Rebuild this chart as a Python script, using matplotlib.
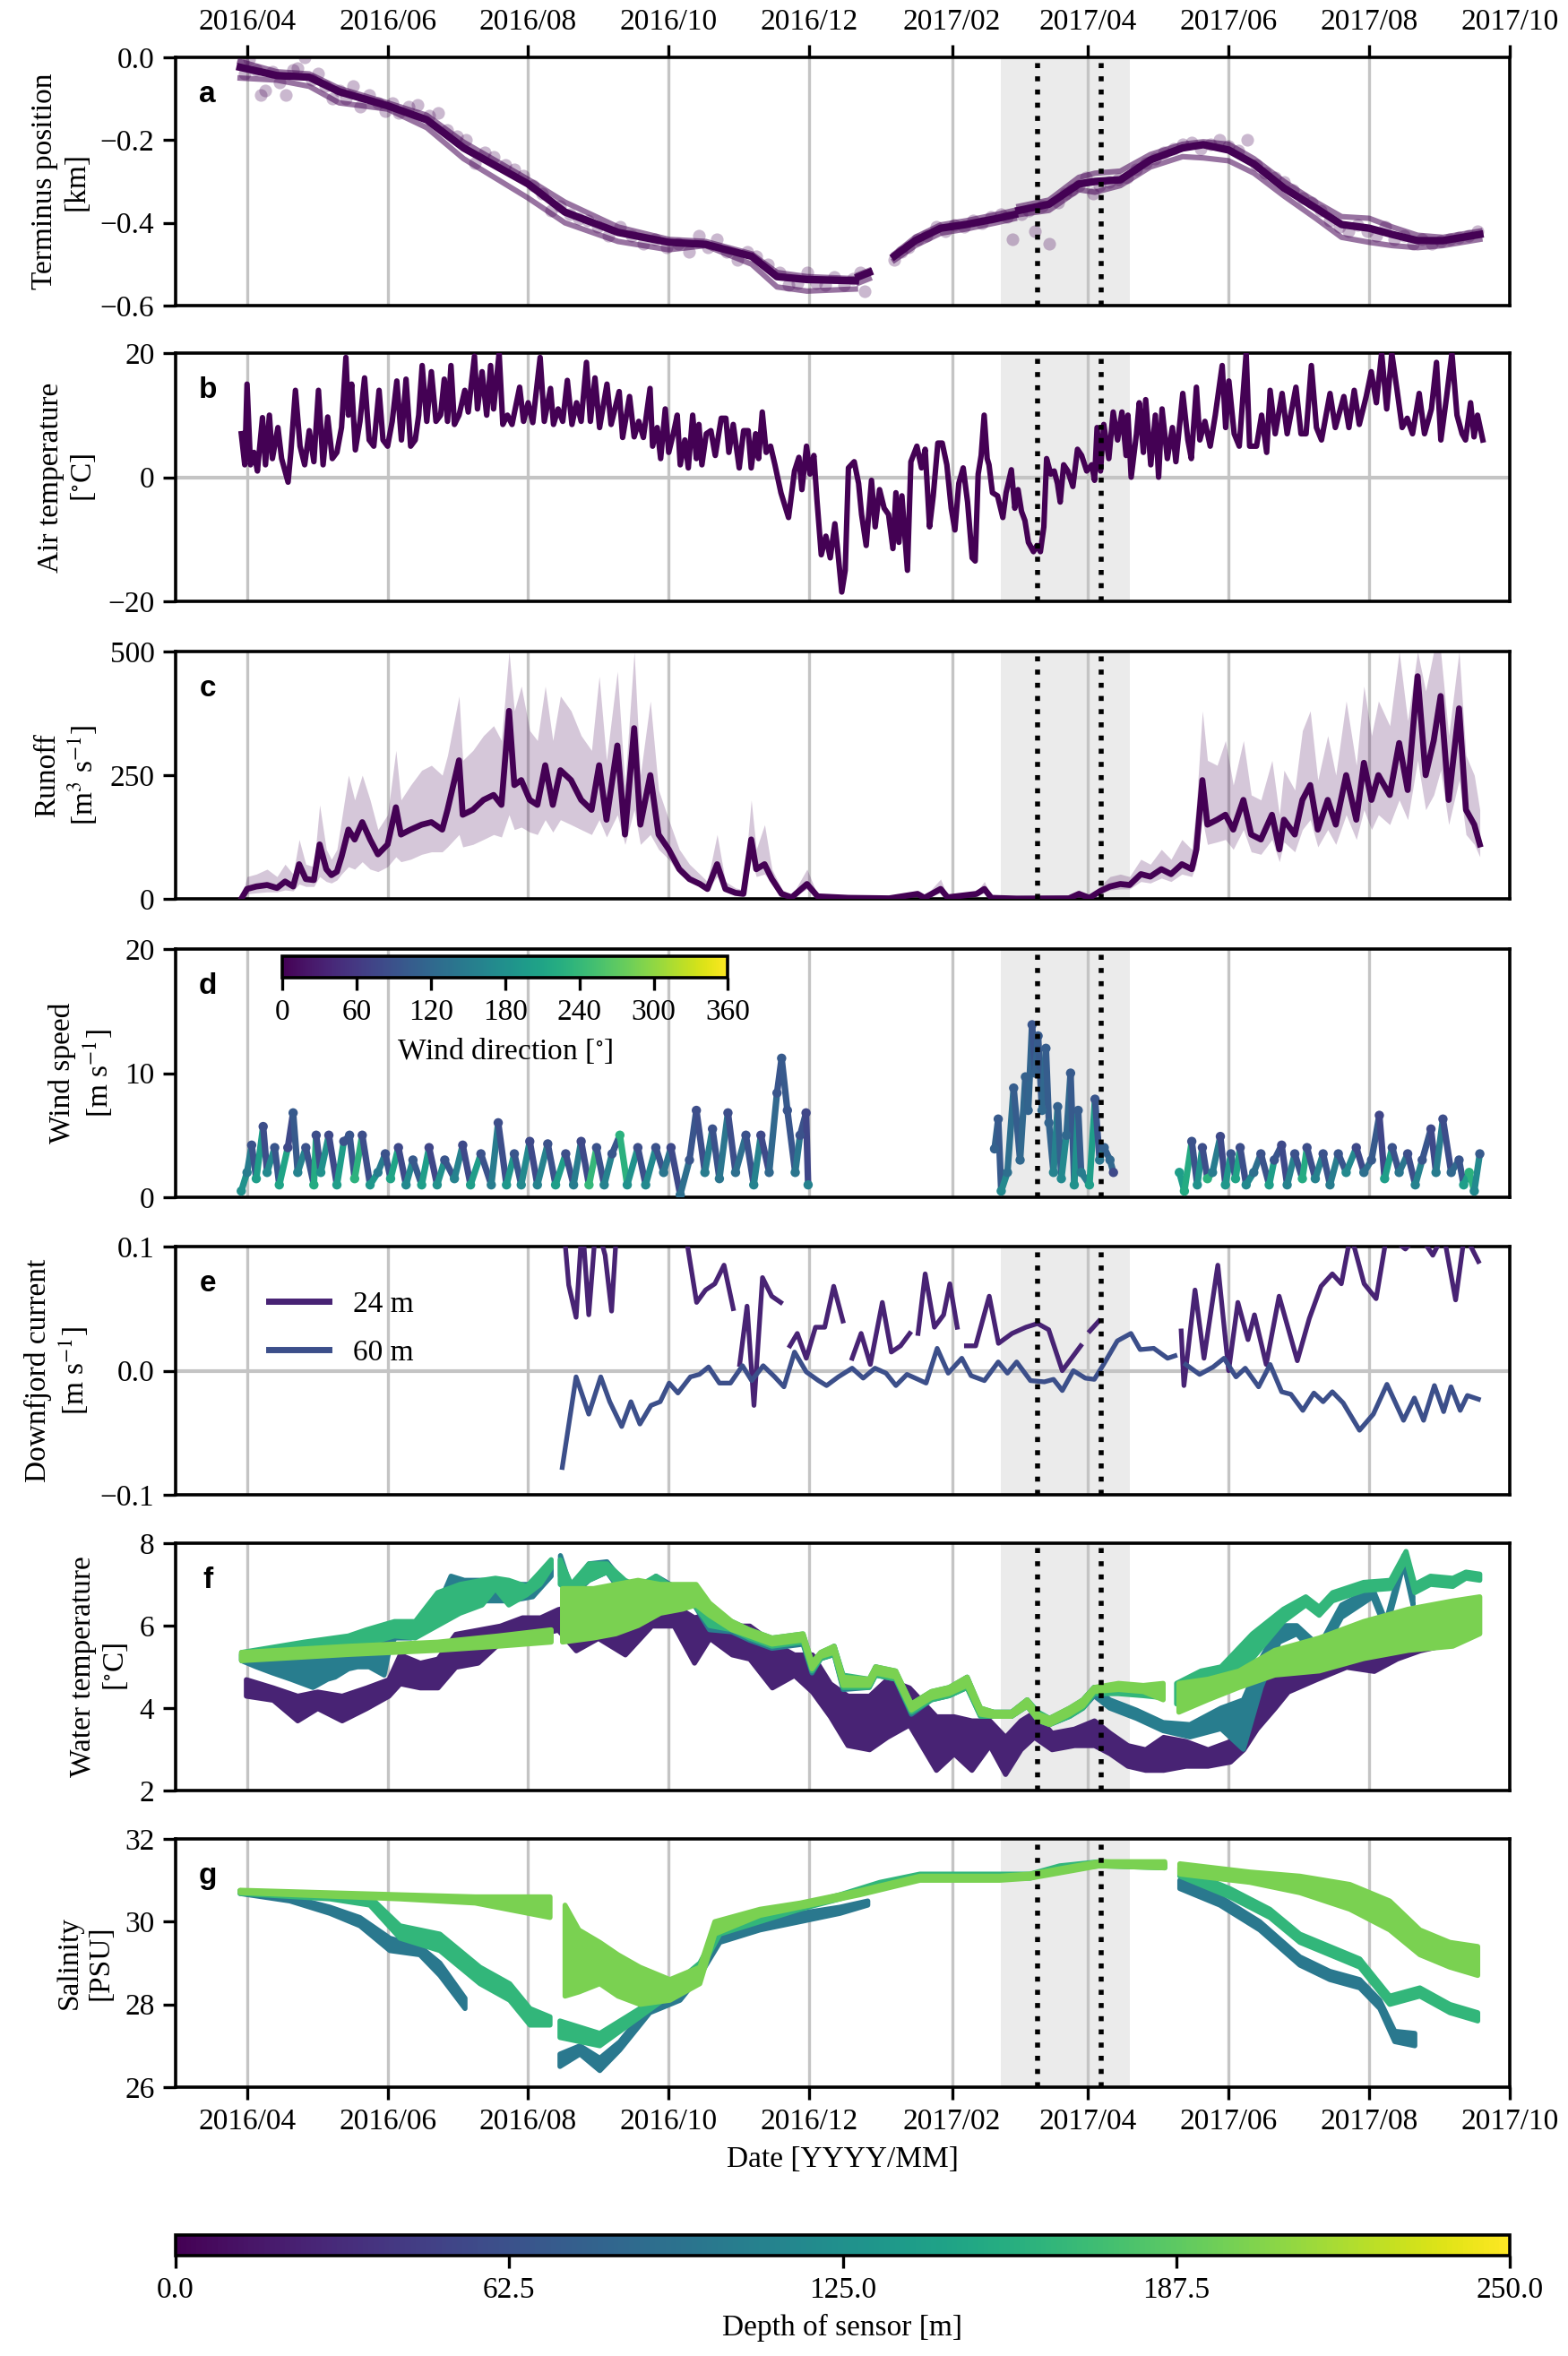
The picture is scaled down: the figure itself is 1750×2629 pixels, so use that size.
import numpy as np
import matplotlib
matplotlib.use('Agg')
import matplotlib.pyplot as plt
import matplotlib.dates as mdates
from matplotlib.collections import LineCollection
from matplotlib import cm, colors

plt.rcParams['font.family'] = ['Liberation Serif', 'DejaVu Serif']
plt.rcParams['mathtext.fontset'] = 'stix'
plt.rcParams['font.size'] = 12

nan = np.nan

# days counted from 2016-03-01
SHADE = (358, 414)
EVENTS = [374, 401.6]

# a: terminus position [km]
a_days = [28, 44, 58, 71, 92, 109, 125, 153, 169, 192, 214, 230, 250, 261, 274, 295, 295.5, 296.5, 301, 306,
          312, 321, 332, 343, 356, 364, 365, 366, 379, 392, 399, 410, 423, 437, 446, 457, 468, 481, 495, 506,
          518, 528, 539, 550, 566]
a_mid = [-0.024, -0.044, -0.048, -0.083, -0.117, -0.151, -0.219, -0.306, -0.374, -0.423, -0.447, -0.452, -0.481, -0.53, -0.537, -0.54, nan, -0.53, -0.52, nan,
         -0.48, -0.443, -0.413, -0.404, -0.39, -0.38, nan, -0.37, -0.355, -0.306, -0.30, -0.296, -0.248, -0.219, -0.211, -0.224, -0.258, -0.316, -0.365, -0.404,
         -0.413, -0.428, -0.443, -0.443, -0.428]
a_north = [-0.010, -0.035, -0.040, -0.075, -0.110, -0.140, -0.205, -0.295, -0.350, -0.410, -0.440, -0.445, -0.475, -0.520, -0.530, -0.535, nan, -0.525, -0.515, nan,
           -0.475, -0.435, -0.405, -0.395, -0.380, -0.370, nan, -0.360, -0.345, -0.290, -0.280, -0.275, -0.235, -0.210, -0.204, -0.210, -0.245, -0.300, -0.350, -0.385,
           -0.389, -0.410, -0.430, -0.435, -0.420]
a_south = [-0.050, -0.055, -0.070, -0.110, -0.125, -0.170, -0.245, -0.340, -0.400, -0.445, -0.465, -0.455, -0.500, -0.555, -0.565, -0.560, nan, -0.545, -0.535, nan,
           -0.490, -0.455, -0.425, -0.415, -0.400, -0.390, nan, -0.380, -0.370, -0.320, -0.326, -0.310, -0.265, -0.240, -0.243, -0.250, -0.280, -0.335, -0.390, -0.435,
           -0.447, -0.455, -0.460, -0.455, -0.440]
a_pt_days = [29, 30, 32, 35, 37, 39, 42, 45, 48, 51, 53, 56, 59, 62, 65, 68, 71, 74, 77, 80,
             84, 88, 91, 94, 97, 101, 105, 110, 114, 118, 122, 126, 130, 134, 138, 143, 147, 151, 155, 159,
             163, 167, 171, 175, 179, 183, 188, 193, 198, 203, 208, 213, 218, 223, 227, 231, 235, 239, 244, 248,
             252, 257, 262, 266, 270, 274, 278, 282, 286, 290, 294, 297, 299,
             312, 315, 318, 322, 326, 330, 334, 338, 342, 346, 350, 354, 358, 361, 363, 367, 370, 373, 376, 379,
             383, 386, 389, 392, 395, 398, 401, 405, 409, 413, 417, 421, 425, 429, 433, 437, 441, 445, 449, 453,
             457, 461, 465, 469, 473, 477, 481, 485, 489, 493, 497, 501, 505, 509, 513, 517, 521, 525, 529, 533,
             537, 541, 545, 549, 553, 557, 561, 565]
a_pt_vals = [-0.01, -0.04, -0.005, -0.03, -0.09, -0.08, -0.035, -0.06, -0.09, -0.03, -0.025, 0.0, -0.055, -0.04, -0.07, -0.1, -0.08, -0.1, -0.07, -0.12,
             -0.09, -0.11, -0.13, -0.11, -0.135, -0.12, -0.115, -0.14, -0.135, -0.175, -0.19, -0.2, -0.255, -0.23, -0.24, -0.26, -0.27, -0.285, -0.31, -0.33,
             -0.37, -0.36, -0.38, -0.39, -0.395, -0.41, -0.43, -0.41, -0.43, -0.45, -0.44, -0.46, -0.45, -0.47, -0.43, -0.46, -0.44, -0.47, -0.49, -0.47,
             -0.48, -0.5, -0.52, -0.55, -0.545, -0.52, -0.545, -0.55, -0.53, -0.55, -0.535, -0.52, -0.565,
             -0.49, -0.47, -0.46, -0.44, -0.43, -0.41, -0.42, -0.405, -0.41, -0.395, -0.4, -0.385, -0.38, -0.385, -0.44, -0.38, -0.37, -0.42, -0.36, -0.45,
             -0.35, -0.33, -0.32, -0.31, -0.29, -0.33, -0.31, -0.3, -0.295, -0.29, -0.27, -0.255, -0.245, -0.23, -0.22, -0.21, -0.205, -0.22, -0.21, -0.2,
             -0.215, -0.225, -0.2, -0.26, -0.28, -0.29, -0.3, -0.32, -0.34, -0.35, -0.37, -0.395, -0.41, -0.42, -0.405, -0.42, -0.43, -0.41, -0.44, -0.43,
             -0.45, -0.44, -0.45, -0.445, -0.44, -0.435, -0.43, -0.42]

# b: air temperature [C], summer 2016 / winter 2016-17 / spring-summer 2017
b_days_sum16 = [28.5, 30, 31, 32.5, 34, 35.5, 37.7, 39, 40.7, 42,
                44.4, 46, 48.8, 50, 52, 54, 56, 58, 60, 62,
                64, 66, 68, 70, 72, 73.9, 75, 76.4, 78, 80,
                82, 84, 86, 88.3, 90, 92, 94, 96, 98, 100,
                102, 104, 105.5, 107, 109, 111, 113, 115, 116.6, 118,
                119.5, 121, 123, 125.5, 127, 129.7, 131, 133, 135, 136.7,
                138, 140.4, 142, 144, 146, 149.3, 151, 153, 155, 158.2,
                160, 162.7, 164, 166, 168, 170, 172, 174, 176, 178.3,
                180, 182, 184, 187.2, 189, 192.5, 194, 197, 199, 201,
                203, 205.9, 207, 209, 210.5, 212.5, 214, 216, 217.7, 219,
                221, 222.5, 224.4, 226]
b_vals_sum16 = [7, 2, 15, 2, 4, 1, 9.6, 2, 10, 3,
                8, 3, -0.8, 4, 14, 5, 2, 7.5, 2.5, 14,
                2, 9.7, 3, 4, 8, 19.3, 10, 15, 4.4, 9,
                16, 6, 5, 14, 6, 5, 9, 15.5, 6, 15.8,
                5, 6, 10, 18, 9, 17, 9, 10, 15.8, 9,
                18, 8.5, 10, 14, 10.5, 19.5, 11, 17, 10, 18,
                11, 20, 8.5, 10, 8.5, 14.5, 9, 12, 8.8, 19.3,
                9, 14.3, 8.5, 11, 9, 15.6, 8.5, 12, 9, 18.5,
                9, 16, 8, 15, 8.5, 13.8, 6.4, 13, 6.5, 9,
                6.4, 14.3, 5, 8, 3, 11, 4, 7, 10, 2,
                6, 1.5, 10, 3]
b_days_win = [227.1, 228.4, 230.3, 232.3, 234.2, 236.8, 238.8, 240.1, 242, 244.6,
              246.5, 248.5, 249.8, 251.7, 253, 254.6, 256.3, 258.2, 260.1, 262.7,
              266, 268.6, 270.5, 271.8, 273.8, 275.3, 277, 278.3, 280.2, 282.2,
              284.1, 286.1, 287.4, 289.1, 290.6, 292, 294.5, 296.4, 297.7, 299.7,
              302, 303.6, 305.5, 307.5, 309.4, 311.3, 312.6, 313.9, 315.2, 317.6,
              319.1, 321.7, 323.7, 325.3, 327.2, 328.8, 330.8, 332.7, 334.7, 336.6,
              338.2, 339.9, 341.8, 343.7, 345.7, 347, 348.3, 349.6, 350.9, 352.2]
b_vals_win = [8.5, 2, 7, 7.5, 3.5, 9.5, 9.5, 4, 8.5, 1.5,
              7.5, 7.5, 1.5, 7, 3, 10.5, 4, 5, 2, -2.5,
              -6.5, 1, 3.2, -2, 5, 0.5, 3.5, -3.5, -12.5, -9.5,
              -13, -7.5, -12, -18.5, -15, 1.5, 2.5, -1, -6, -11,
              -0.5, -8, -2, -5, -6, -11.5, -2.5, -10.5, -3, -15,
              2.5, 5, 1.5, 4.5, -8, -3, 5.5, 5.5, 2, -5,
              -8.5, -1, 1.5, -4, -13, -13.5, 0.5, 3.5, 10, 3]
b_days_17 = [353, 354.5, 356.7, 359, 360.4, 362.7, 364.2, 365.6, 367.1, 368.6,
             370.1, 372.3, 373.8, 375.3, 376.8, 378, 379.8, 381.3, 382.7, 383.9,
             385.4, 387.2, 389.4, 391.4, 393.2, 395.4, 397.6, 398.8, 399.9, 401.4,
             402.8, 405, 406.9, 408.8, 410.7, 412.5, 413.3, 414.7, 417, 418.2,
             420, 421, 423.2, 425.2, 426.6, 428.1, 430.4, 432.6, 434.1, 437.1,
             439.3, 440.8, 443, 444.5, 446.7, 449, 451.2, 454.2, 455.7, 457.1,
             459.4, 461.6, 464.6, 466.1, 469.1, 471.3, 473.5, 475, 477.2, 480.2,
             482.4, 486.2, 488.4, 490.6, 492.9, 495.1, 497.3, 501, 503.3, 507,
             509.2, 511.5, 513.7, 516.7, 518.9, 521.1, 523.4, 525.6, 527.8, 530.1,
             532.3, 534.5, 536.8, 539.7, 542, 545, 547.2, 549.1, 551.6, 553.9,
             556.1, 558.3, 559.8, 562, 563.5, 565, 567.3]
b_vals_17 = [2, -2.5, -3, -6.5, -2.5, 1.2, -5, -2, -5.5, -7,
             -10.5, -12, -11, -12, -8, 3, 0.5, 1, -1, -4,
             2, 1, -1.5, 4.5, 3.5, 1, 2, -0.5, 8, 1,
             8.5, 3, 10.5, 6, 10.5, 3.5, 10, 0, 7, 12,
             4, 12.5, 2, 10, 0, 11, 3, 8, 2.5, 13.5,
             6, 3, 14.5, 6, 9, 5, 10, 18, 8, 15.5,
             7, 5, 20, 5, 5, 10, 4, 14, 7, 13.5,
             7, 14.5, 7, 7, 18, 8, 6, 13.5, 8, 13,
             8, 14, 8.5, 13, 17, 12, 20, 11, 20, 14,
             8, 9.5, 7, 13.5, 7, 11, 18.5, 6, 13, 20,
             10, 7, 6, 12, 6.5, 10, 6]

# c: runoff [m3/s]
c_days = [28.5, 31, 35, 39.7, 44, 47.5, 51, 53.6, 56.5, 60,
          62.5, 65.4, 67.6, 70, 72, 75, 77.7, 81, 84.4, 87.8,
          92, 95.6, 97.8, 102, 106.8, 111, 115.7, 118, 123, 124.6,
          129, 133.6, 138, 141.4, 144.7, 147, 150, 153.7, 157, 160.4,
          163.7, 167, 171.6, 176, 180.5, 183.8, 187, 191.7, 195, 199,
          201.7, 206, 209.6, 214, 218.6, 223, 227.5, 230.8, 235, 238.6,
          243, 246.4, 249.8, 252, 255.6, 258.8, 263, 267.4, 274, 278.6,
          292, 309.7, 322, 325, 332, 335, 347.6, 351, 354, 365,
          387.7, 392, 396.6, 401, 405.5, 410, 414, 418.9, 423, 427.8,
          432, 436.7, 441, 443, 445.6, 447.8, 452, 455.6, 459, 463.4,
          466.8, 471, 475.8, 479, 481, 485.7, 489, 492.4, 495.7, 500,
          503.5, 508, 512.4, 515.7, 519, 522, 526.9, 531, 534.7, 539,
          542.5, 546, 549, 552.5, 557, 560, 563.6, 566]
c_mean = [0, 20, 25, 28, 22, 35, 25, 70, 40, 38,
          110, 60, 48, 55, 85, 140, 120, 155, 120, 90,
          110, 185, 130, 140, 150, 155, 140, 180, 280, 170,
          180, 200, 210, 190, 380, 230, 240, 200, 190, 270,
          190, 260, 240, 200, 180, 270, 160, 310, 130, 345,
          150, 250, 130, 100, 60, 40, 30, 20, 70, 20,
          12, 10, 120, 60, 70, 40, 10, 3, 30, 5,
          2, 1, 10, 2, 20, 3, 10, 20, 2, 0.5,
          1, 10, 2, 15, 25, 30, 28, 50, 45, 60,
          50, 70, 60, 100, 240, 150, 160, 170, 140, 200,
          130, 120, 170, 100, 160, 130, 200, 230, 140, 200,
          150, 250, 160, 275, 200, 250, 210, 315, 220, 450,
          250, 320, 410, 200, 385, 180, 150, 110]
c_lo = [0, 10, 12, 14, 14, 18, 16, 30, 25, 25,
        45, 35, 32, 38, 50, 65, 60, 75, 60, 55,
        65, 85, 75, 80, 90, 95, 95, 105, 130, 105,
        110, 120, 130, 125, 170, 140, 145, 135, 130, 160,
        135, 160, 150, 140, 130, 160, 125, 170, 110, 180,
        110, 130, 100, 80, 50, 35, 25, 18, 45, 18,
        10, 8, 80, 45, 50, 30, 8, 2, 20, 3,
        1, 0.5, 6, 1, 12, 2, 6, 12, 1, 0.2,
        0.5, 6, 1, 10, 18, 20, 20, 35, 32, 42,
        35, 50, 45, 70, 160, 110, 115, 120, 100, 140,
        95, 90, 120, 75, 115, 95, 140, 160, 105, 140,
        110, 170, 120, 180, 140, 170, 150, 200, 160, 280,
        180, 210, 260, 150, 240, 130, 110, 85]
c_hi = [0, 45, 50, 60, 45, 70, 50, 120, 70, 65,
        190, 100, 80, 100, 160, 250, 200, 250, 200, 140,
        170, 300, 200, 230, 260, 270, 250, 290, 410, 280,
        300, 330, 350, 320, 500, 380, 430, 340, 320, 430,
        320, 410, 380, 330, 300, 450, 280, 460, 230, 500,
        250, 400, 220, 160, 100, 70, 50, 35, 130, 35,
        22, 18, 200, 100, 150, 60, 20, 6, 60, 8,
        3, 2, 15, 4, 40, 5, 15, 35, 3, 1,
        2, 18, 4, 25, 45, 50, 45, 80, 70, 100,
        80, 120, 100, 190, 380, 280, 270, 320, 230, 320,
        210, 200, 280, 170, 260, 220, 340, 380, 240, 330,
        250, 400, 270, 430, 330, 400, 350, 500, 360, 500,
        420, 500, 500, 330, 500, 290, 250, 180]

# d: wind speed [m/s] and direction [deg], three records
d1_days = [28.5, 31, 33, 35, 38, 39.7, 43, 45, 48.7, 51,
           53, 56.5, 60, 61, 63, 66.5, 70, 73, 75.5, 77.7,
           81, 84.4, 87.8, 91, 93.3, 96.7, 100, 103, 106.8, 110,
           113.5, 116.8, 121, 124.6, 128, 132.5, 137, 140, 143.6, 147,
           150, 153.7, 157, 161.5, 164.9, 169.3, 172.7, 176, 179.4, 182.7,
           186, 189.4, 192.8, 196, 200.6, 204, 208.4, 211.8, 215, 219,
           223, 226, 229.7, 233, 236, 239.7, 243, 247.5, 250.9, 254,
           257.6, 261, 263, 265.5, 268.9, 271, 273.6, 274.5]
d1_speed = [0.5, 2, 4.2, 1.5, 5.7, 2, 4, 1, 4, 6.8,
            2, 4, 1, 5, 2, 5, 1, 4.5, 5, 1.5,
            5, 1, 2, 3.5, 1.5, 4, 1, 3, 1, 4,
            1, 3, 1.5, 4.2, 1, 3.5, 1, 6, 1, 3.5,
            1, 4.5, 1, 4.3, 1, 3.5, 1, 4.5, 1, 4,
            1, 3.5, 5, 1, 4, 1, 4, 2, 4, 0.2,
            3, 7, 2, 5.5, 1.5, 6.8, 2, 5, 1, 5,
            2, 8.4, 11.2, 7, 2, 5, 6.8, 1]
d1_dir = [180, 150, 90, 200, 85, 170, 95, 210, 80, 100,
          160, 90, 220, 85, 180, 80, 200, 90, 95, 230,
          85, 190, 150, 90, 210, 80, 170, 100, 200, 75,
          180, 95, 160, 80, 200, 90, 150, 85, 190, 95,
          170, 80, 160, 90, 200, 85, 150, 80, 240, 90,
          160, 95, 230, 180, 85, 170, 90, 140, 80, 130,
          95, 85, 150, 90, 140, 85, 130, 90, 160, 80,
          120, 95, 100, 95, 140, 90, 75, 160]
d2_days = [355.4, 357, 358.3, 361, 363.7, 366.5, 368.8, 370, 371.7, 373,
           374.3, 376, 377.7, 379, 381, 382.8, 384.4, 386.6, 388.4, 390,
           391.7, 393, 396.6, 399, 401, 403, 405.5, 407]
d2_speed = [3.9, 6.3, 0.5, 2, 8.8, 3, 9.7, 7, 13.9, 10,
            13, 7, 12, 6, 2, 7.3, 1.5, 5, 10, 1,
            7, 2, 1, 7.9, 3, 4, 3, 2]
d2_dir = [110, 100, 170, 130, 105, 120, 110, 115, 95, 110,
          100, 120, 105, 115, 160, 110, 170, 120, 100, 180,
          105, 150, 200, 95, 140, 110, 120, 80]
d3_days = [435.6, 437.8, 441, 443.4, 445.6, 447.8, 450, 453.4, 455.6, 458,
           460, 462, 464.6, 467.9, 471, 474.6, 476.8, 480, 482.4, 485.7,
           489, 491, 494.6, 498, 501, 504.6, 508, 512.4, 515.7, 519,
           522.4, 524.7, 528, 531, 534.7, 538, 541, 544.8, 547, 550,
           553.6, 557, 559, 561.4, 563.6, 566]
d3_speed = [2, 0.5, 4.5, 1, 4, 1.5, 2, 4.9, 1, 3.5,
            1.5, 4, 1, 2, 3.5, 1, 3, 4.2, 1, 3.5,
            1.5, 4, 1.5, 3.5, 1, 3.5, 2, 4, 2, 3,
            6.6, 1.5, 4, 2, 3.5, 1, 3, 5.5, 2, 6.3,
            2, 3, 1, 2, 0.5, 3.5]
d3_dir = [200, 220, 90, 180, 85, 230, 150, 80, 190, 95,
          210, 85, 170, 130, 90, 200, 95, 80, 160, 90,
          220, 85, 160, 90, 150, 95, 170, 80, 130, 100,
          75, 200, 90, 140, 85, 160, 95, 80, 150, 85,
          120, 95, 200, 230, 170, 100]

# e: downfjord current [m/s]
e60_days = [167.8, 173.8, 179.3, 184.5, 188.4, 193.6, 197.6, 201.5, 206.3, 210.3,
            214.2, 218, 223.4, 227.3, 231.3, 236, 240.8, 246, 250, 255,
            260, 264, 268.6, 273.7, 279, 282.5, 287.6, 293.6, 298.4, 303.5,
            308.3, 312.6, 317.4, 322.2, 325.7, 330.5, 335.3, 341.2, 345.2, 351,
            357, 361, 365, 371, 377, 381, 384.8, 389.6, 394.8, 398.7,
            402.7, 408.7, 414.6, 418.6, 424.5, 430.5, 433.7, 435, 438.4, 444.4,
            450.3, 455, 460.2, 464.2, 470, 475, 480, 484, 489.2, 494,
            498, 502, 506.7, 513.8, 519.8, 525.7, 532.9, 537.6, 541.6, 546.3,
            550.3, 553.5, 557.5, 560.6, 565.4]
e60_vals = [-0.078, -0.005, -0.035, -0.005, -0.025, -0.045, -0.025, -0.043, -0.028, -0.025,
            -0.01, -0.018, -0.005, -0.003, 0.003, -0.01, -0.01, 0.004, -0.008, 0.004,
            -0.005, -0.013, 0.015, -0.001, -0.008, -0.012, -0.005, 0.002, -0.006, 0.002,
            -0.002, -0.012, -0.003, -0.007, -0.01, 0.018, -0.002, 0.01, -0.004, -0.008,
            0.007, -0.002, 0.007, -0.008, -0.009, -0.007, -0.016, 0.0, -0.006, -0.007,
            0.005, 0.024, 0.03, 0.017, 0.018, 0.01, 0.012, nan, 0.005, -0.003,
            0.003, 0.01, -0.005, 0.002, -0.013, 0.005, -0.017, -0.019, -0.032, -0.018,
            -0.025, -0.017, -0.026, -0.048, -0.035, -0.011, -0.04, -0.022, -0.04, -0.012,
            -0.033, -0.013, -0.032, -0.02, -0.023]
e24_days = [167.8, 170.6, 173.8, 176.5, 179.3, 182.5, 186.4, 189.2, 191.6, 200,
            210, 218, 222.2, 226.1, 230, 234, 238, 242, 243.5, 244.8,
            248, 251, 254.7, 258.7, 262.6, 264.5, 266.6, 269.8, 273.7, 277.7,
            281.7, 285.6, 289.6, 291.5, 293.6, 297.5, 301.5, 306.7, 310.6, 314.6,
            318.6, 320.5, 322.2, 325.3, 329.3, 333.3, 336, 339.2, 341, 343.2,
            347.2, 353.1, 357.1, 363, 369, 374.1, 378.9, 384.8, 388.8, 392.8,
            394.5, 396.8, 400.7, 402, 436.4, 437.6, 442.4, 446.3, 452.3, 457,
            461, 465.4, 468.2, 473.3, 478.9, 486.8, 492, 497.1, 502, 505.9,
            510, 515.8, 521, 525.7, 533.7, 539.6, 545.6, 550.3, 555.5, 559.4,
            565.4]
e24_vals = [0.13, 0.069, 0.043, 0.12, 0.045, 0.12, 0.093, 0.048, 0.12, 0.14,
            0.14, 0.13, 0.1, 0.055, 0.065, 0.07, 0.085, 0.05, nan, 0.005,
            0.052, -0.028, 0.075, 0.06, 0.055, nan, 0.02, 0.03, 0.01, 0.035,
            0.035, 0.068, 0.04, nan, 0.01, 0.03, 0.005, 0.055, 0.015, 0.02,
            0.03, nan, 0.03, 0.078, 0.035, 0.045, 0.07, 0.035, nan, 0.02,
            0.02, 0.06, 0.022, 0.03, 0.035, 0.038, 0.033, 0.0, 0.01, 0.02,
            nan, 0.032, 0.04, nan, 0.032, -0.012, 0.065, 0.01, 0.085, 0.0,
            0.055, 0.025, 0.045, 0.005, 0.06, 0.008, 0.042, 0.068, 0.078, 0.07,
            0.11, 0.07, 0.058, 0.11, 0.098, 0.11, 0.093, 0.11, 0.057, 0.11,
            0.088]

# f: water temperature [C], band (low, high) per sensor
f24_days = [30.5, 42.2, 52.8, 61.5, 72.1, 82.8, 92.4, 97.3, 106, 113.7,
            121.4, 131.1, 140.8, 150.4, 158.2, 165.9, 173.7, 183.3, 195, 206.5,
            216.2, 225, 231.7, 241.4, 249, 258.8, 268.4, 276.2, 284, 291.6,
            301, 308.7, 318.3, 330, 337.7, 345.4, 353.2, 360, 366.7, 372.5,
            380.2, 389.9, 398.6, 405.4, 413.1, 420.8, 428.6, 438.3, 447.9, 457.6,
            463.4, 469.2, 476.9, 482.7, 495, 508, 520, 530, 540, 548]
f24_lo = [4.3, 4.2, 3.7, 4.0, 3.7, 4.0, 4.3, 4.6, 4.5, 4.5,
          5.0, 5.1, 5.6, 5.6, 5.8, 5.9, 5.4, 5.7, 5.3, 6.0,
          6.0, 5.1, 5.7, 5.3, 5.2, 4.5, 4.8, 4.4, 3.8, 3.1,
          3.0, 3.3, 3.6, 2.5, 2.9, 2.5, 3.1, 2.4, 3.0, 3.3,
          3.0, 3.1, 3.1, 2.9, 2.6, 2.5, 2.5, 2.6, 2.6, 2.7,
          3.0, 3.5, 4.0, 4.4, 4.7, 5.0, 4.9, 5.2, 5.4, 5.5]
f24_hi = [4.7, 4.5, 4.3, 4.4, 4.3, 4.5, 4.7, 5.3, 5.1, 5.2,
          5.8, 5.9, 6.0, 6.2, 6.2, 6.4, 6.5, 6.3, 6.3, 6.6,
          6.5, 6.2, 6.3, 6.0, 6.0, 5.6, 5.3, 5.3, 4.6, 4.3,
          4.3, 4.7, 4.5, 3.8, 3.8, 3.7, 3.7, 3.3, 3.7, 3.9,
          3.4, 3.5, 3.7, 3.4, 3.1, 3.0, 3.3, 3.2, 3.0, 3.2,
          3.9, 4.6, 4.8, 5.2, 5.5, 5.8, 5.7, 6.2, 6.4, 6.5]
f105_days = [28.6, 35, 42.2, 50, 59.6, 66, 69.2, 75, 78.9, 84,
             90.5, 93, 95.3, 102.1, 108, 113.7, 119.5, 125.3, 135, 145,
             155, 163, 165, 167, 171.7, 179.4, 187.2, 195, 200.7, 208.5,
             216.2, 224, 231.7, 241.4, 249, 258.8, 272.3, 276.2, 280, 285.8,
             289.7, 301, 303.8, 312.5, 319.3, 328, 335.7, 343.5, 349.3, 355.1,
             362.8, 369.6, 374.4, 379.3, 388, 393.8, 398.6, 405.4, 417, 428.6,
             440.2, 453.7, 463.4, 471.1, 478.9, 486.6, 496.3, 506, 519.5, 525.3,
             533, 537]
f105_lo = [5.15, 5.0, 4.85, 4.7, 4.5, 4.7, 4.75, 4.95, 5.0, 5.0,
           4.8, 5.5, 5.7, 5.7, 5.95, 6.1, 6.8, 6.7, 6.6, 6.6,
           6.7, 7.2, nan, 7.2, 6.7, 7.1, 7.3, 6.7, 6.7, 6.9,
           6.7, 6.6, 5.9, 5.85, 5.65, 5.45, 5.55, 4.85, 5.2, 5.3,
           4.45, 4.5, 4.8, 4.7, 3.85, 4.2, 4.3, 4.5, 3.8, 3.8,
           3.8, 4.05, 3.7, 3.6, 3.8, 4.0, 4.3, 4.0, 3.75, 3.45,
           3.3, 3.5, 3.0, 4.5, 5.6, 5.8, 5.2, 6.2, 6.7, 5.9,
           7.5, 6.5]
f105_hi = [5.3, 5.35, 5.3, 5.35, 5.4, 5.4, 5.45, 5.5, 5.5, 5.55,
           5.6, 5.9, 6.05, 5.95, 6.2, 6.45, 7.2, 7.1, 7.1, 7.0,
           7.0, 7.5, nan, 7.7, 6.9, 7.5, 7.55, 7.0, 6.9, 7.2,
           6.95, 6.8, 6.15, 6.05, 5.85, 5.65, 5.75, 5.05, 5.3, 5.5,
           4.75, 4.65, 5.0, 4.85, 4.05, 4.35, 4.45, 4.75, 3.95, 3.9,
           3.9, 4.2, 3.85, 3.75, 3.95, 4.2, 4.5, 4.2, 3.95, 3.65,
           3.6, 4.0, 4.2, 5.2, 6.0, 6.0, 5.5, 6.5, 6.9, 6.1,
           7.7, 6.7]
f165_days = [28.6, 55.7, 75, 82.8, 95, 104, 113.7, 123.4, 133, 138.8,
             144.6, 152.4, 158.2, 163, 165, 166.9, 171.7, 179.4, 187.2, 195,
             200.7, 208.5, 216.2, 224, 231.7, 241.4, 249, 258.8, 272.3, 276.2,
             280, 285.8, 289.7, 301, 303.8, 312.5, 319.3, 328, 335.7, 343.5,
             349.3, 355.1, 362.8, 369.6, 374.4, 379.3, 388, 393.8, 398.6, 409,
             420, 428.6, 432, 434.4, 445, 453.7, 467.3, 480.8, 490.5, 496.3,
             502.1, 515.6, 527.2, 534, 537.8, 544.6, 554.3, 560, 566]
f165_lo = [5.15, 5.35, 5.45, 5.55, 5.75, 5.7, 6.0, 6.3, 6.5, 6.9,
           6.5, 6.75, 7.0, 7.4, nan, 7.0, 6.8, 7.1, 7.3, 6.8,
           6.8, 6.9, 6.7, 6.6, 6.0, 5.9, 5.7, 5.5, 5.6, 4.9,
           5.2, 5.3, 4.5, 4.5, 4.8, 4.7, 3.9, 4.2, 4.3, 4.5,
           3.8, 3.8, 3.8, 4.05, 3.7, 3.6, 3.8, 4.0, 4.35, 4.35,
           4.3, 4.25, nan, 4.1, 4.4, 4.6, 5.2, 6.1, 6.5, 6.25,
           6.6, 6.85, 6.9, 7.6, 6.8, 7.0, 6.95, 7.15, 7.1]
f165_hi = [5.35, 5.6, 5.75, 5.9, 6.1, 6.1, 6.8, 7.0, 7.1, 7.15,
           7.1, 6.95, 7.3, 7.6, nan, 7.6, 7.0, 7.5, 7.5, 7.1,
           6.95, 7.2, 6.9, 6.8, 6.2, 6.1, 5.9, 5.7, 5.8, 5.1,
           5.35, 5.5, 4.8, 4.7, 5.0, 4.9, 4.1, 4.4, 4.5, 4.75,
           4.0, 3.9, 3.9, 4.2, 3.9, 3.75, 4.0, 4.2, 4.5, 4.55,
           4.5, 4.5, nan, 4.6, 4.9, 5.0, 5.8, 6.4, 6.7, 6.45,
           6.8, 7.05, 7.1, 7.8, 7.0, 7.2, 7.15, 7.3, 7.25]
f200_days = [28.6, 75, 113.7, 140, 163, 165, 167.9, 181.4, 191, 200.7,
             210.4, 220, 225.9, 231.7, 241.4, 249, 258.8, 272.3, 276.2, 280,
             285.8, 289.7, 301, 303.8, 312.5, 319.3, 328, 335.7, 343.5, 349.3,
             355.1, 362.8, 369.6, 374.4, 379.3, 388, 393.8, 398.6, 409.2, 420,
             428.6, 431, 435.4, 448, 461.5, 477, 496.3, 515.6, 535, 554.3,
             566]
f200_lo = [5.15, 5.3, 5.4, 5.5, 5.6, nan, 5.6, 5.7, 5.8, 6.0,
           6.3, 6.4, 6.5, 6.25, 5.9, 5.75, 5.55, 5.65, 4.95, 5.25,
           5.35, 4.55, 4.55, 4.85, 4.75, 3.95, 4.25, 4.35, 4.55, 3.85,
           3.8, 3.8, 4.05, 3.7, 3.6, 3.85, 4.05, 4.4, 4.45, 4.4,
           4.2, nan, 3.9, 4.2, 4.5, 4.8, 4.9, 5.2, 5.4, 5.5,
           5.8]
f200_hi = [5.35, 5.5, 5.6, 5.75, 5.9, nan, 6.9, 6.9, 7.0, 7.1,
           7.0, 7.0, 7.0, 6.55, 6.1, 5.9, 5.7, 5.8, 5.1, 5.35,
           5.5, 4.75, 4.7, 5.0, 4.9, 4.1, 4.4, 4.5, 4.75, 4.0,
           3.9, 3.9, 4.2, 3.85, 3.75, 4.0, 4.2, 4.5, 4.6, 4.55,
           4.6, nan, 4.6, 4.7, 4.9, 5.4, 5.7, 6.1, 6.4, 6.6,
           6.7]

# g: salinity [PSU]
g100_days = [28, 49.6, 67, 80, 93, 106, 114.7, 125.6, 127, 166.8,
             175.5, 184.1, 192.8, 205.8, 218.9, 227.5, 236.2, 253.6, 271, 288.3,
             300.4, 302, 435.8, 453.2, 470.5, 487.9, 500.9, 513.9, 522.6, 529.1,
             537.8]
g100_lo = [30.68, 30.5, 30.2, 29.9, 29.3, 29.2, 28.7, 27.9, nan, 26.5,
           26.8, 26.4, 26.9, 27.8, 28.1, 28.7, 29.5, 29.8, 30.0, 30.2,
           30.4, nan, 30.8, 30.4, 29.8, 28.95, 28.6, 28.4, 27.9, 27.1,
           27.0]
g100_hi = [30.75, 30.6, 30.35, 30.1, 29.6, 29.4, 29.0, 28.15, nan, 26.8,
           27.0, 26.7, 27.1, 28.0, 28.3, 28.9, 29.7, 30.0, 30.2, 30.35,
           30.5, nan, 31.0, 30.6, 30.0, 29.15, 28.8, 28.6, 28.1, 27.35,
           27.3]
g165_days = [28, 67, 84.3, 97.4, 114.7, 132.1, 145, 153.8, 162.5, 164,
             166.8, 184.1, 201.5, 218.9, 227.5, 236.2, 253.6, 271, 288.3, 305.6,
             323, 357.7, 370.8, 383.7, 401, 429.3, 432, 435.8, 457.5, 474.9,
             487.9, 500.9, 513.9, 526.9, 540, 553, 565.1]
g165_lo = [30.68, 30.55, 30.4, 29.6, 29.3, 28.5, 28.1, 27.5, 27.5, nan,
           27.2, 27.0, 27.7, 28.4, 28.8, 29.7, 30.0, 30.3, 30.55, 30.85,
           31.05, 31.05, 31.05, 31.25, 31.35, 31.3, nan, 31.1, 30.6, 30.1,
           29.5, 29.2, 28.9, 28.0, 28.2, 27.8, 27.6]
g165_hi = [30.75, 30.65, 30.6, 29.9, 29.7, 28.9, 28.5, 27.9, 27.7, nan,
           27.6, 27.3, 27.9, 28.6, 29.0, 29.9, 30.2, 30.4, 30.65, 30.95,
           31.15, 31.15, 31.15, 31.35, 31.45, 31.4, nan, 31.3, 30.8, 30.3,
           29.7, 29.4, 29.1, 28.2, 28.4, 28.0, 27.8]
g200_days = [28, 97.4, 130, 162.5, 164, 169, 175, 184.1, 192, 201.5,
             214.5, 227.5, 234, 253.6, 271, 297, 323, 357.7, 370.8, 401,
             429.3, 432, 435.8, 466.2, 487.9, 509.6, 526.9, 540, 553, 565.1]
g200_lo = [30.7, 30.55, 30.45, 30.1, nan, 28.2, 28.3, 28.5, 28.2, 28.0,
           28.1, 28.5, 29.7, 30.15, 30.35, 30.65, 31.0, 31.0, 31.05, 31.35,
           31.3, nan, 31.15, 30.95, 30.7, 30.3, 29.8, 29.2, 28.9, 28.7]
g200_hi = [30.76, 30.65, 30.6, 30.6, nan, 30.4, 29.8, 29.5, 29.2, 28.9,
           28.6, 28.9, 30.0, 30.3, 30.45, 30.75, 31.1, 31.1, 31.15, 31.45,
           31.45, nan, 31.4, 31.2, 31.1, 30.9, 30.5, 29.8, 29.5, 29.4]

f_series = [(f24_days, f24_lo, f24_hi, 24), (f105_days, f105_lo, f105_hi, 105),
            (f165_days, f165_lo, f165_hi, 165), (f200_days, f200_lo, f200_hi, 200)]
g_series = [(g100_days, g100_lo, g100_hi, 100), (g165_days, g165_lo, g165_hi, 165),
            (g200_days, g200_lo, g200_hi, 200)]

T0 = mdates.date2num(np.datetime64('2016-03-01'))


def t(days):
    return T0 + np.asarray(days, dtype=float)


vir = plt.get_cmap('viridis')
depth_norm = colors.Normalize(0, 250)
dir_norm = colors.Normalize(0, 360)
DARK = vir(0.0)

W, H = 1750, 2629
fig = plt.figure(figsize=(W / 200, H / 200), dpi=200)
panel_px = [(64, 341), (394, 671), (727, 1003), (1059, 1336), (1391, 1668), (1722, 1998), (2052, 2329)]
axes = [fig.add_axes([196 / W, 1 - bot / H, 1489 / W, (bot - top) / H]) for top, bot in panel_px]

for i, ax in enumerate(axes):
    ax.set_xlim(t(0), t(579))
    ax.xaxis.set_major_locator(mdates.MonthLocator(bymonth=[2, 4, 6, 8, 10, 12]))
    ax.xaxis.set_major_formatter(mdates.DateFormatter('%Y/%m'))
    ax.set_axisbelow(True)
    ax.grid(axis='x', color='#c4c4c4', lw=1.2)
    ax.axvspan(t(SHADE[0]), t(SHADE[1]), color='#ebebeb', lw=0, zorder=0)
    for d in EVENTS:
        ax.axvline(t(d), color='k', ls=':', lw=2, zorder=10)
    ax.tick_params(axis='x', bottom=False, labelbottom=False, top=False, labeltop=False,
                   direction='out', length=5, width=1.2)
    ax.tick_params(axis='y', direction='out', length=5, width=1.2)
    for s in ax.spines.values():
        s.set_linewidth(1.3)
    ax.text(0.024, 0.85, 'abcdefg'[i], transform=ax.transAxes, family='Liberation Sans',
            fontweight='bold', fontsize=12, ha='center', va='center', zorder=12)

axes[0].tick_params(axis='x', top=True, labeltop=True)
axes[-1].tick_params(axis='x', bottom=True, labelbottom=True)

# a
ax = axes[0]
ax.scatter(t(a_pt_days), a_pt_vals, s=26, color=DARK, alpha=0.28, lw=0, zorder=2)
ax.plot(t(a_days), a_north, color=DARK, alpha=0.55, lw=2.2, zorder=3)
ax.plot(t(a_days), a_south, color=DARK, alpha=0.55, lw=2.2, zorder=3)
ax.plot(t(a_days), a_mid, color=DARK, lw=3.0, zorder=4)
ax.set_ylim(-0.6, 0)
ax.set_yticks([-0.6, -0.4, -0.2, 0.0])
ax.set_ylabel('Terminus position\n[km]')

# b
ax = axes[1]
ax.axhline(0, color='#c4c4c4', lw=1.5, zorder=1)
b_days = b_days_sum16 + b_days_win + b_days_17
b_vals = b_vals_sum16 + b_vals_win + b_vals_17
ax.plot(t(b_days), b_vals, color=DARK, lw=2.2, zorder=3)
ax.set_ylim(-20, 20)
ax.set_yticks([-20, 0, 20])
ax.set_ylabel('Air temperature\n[$^{\\circ}$C]')

# c
ax = axes[2]
ax.fill_between(t(c_days), c_lo, c_hi, color=DARK, alpha=0.22, lw=0, zorder=2)
ax.plot(t(c_days), c_mean, color=DARK, lw=2.4, zorder=3)
ax.set_ylim(0, 500)
ax.set_yticks([0, 250, 500])
ax.set_ylabel('Runoff\n[m$^3$ s$^{-1}$]')

# d
ax = axes[3]
for dd, sp, dr in [(d1_days, d1_speed, d1_dir), (d2_days, d2_speed, d2_dir), (d3_days, d3_speed, d3_dir)]:
    x = t(dd)
    pts = np.column_stack([x, sp])
    segs = np.stack([pts[:-1], pts[1:]], axis=1)
    lc = LineCollection(segs, colors=vir(dir_norm(np.asarray(dr[:-1]))), lw=2.6,
                        capstyle='round', zorder=3)
    ax.add_collection(lc)
    ax.scatter(x, sp, c=dr, cmap='viridis', norm=dir_norm, s=14, lw=0, zorder=4)
ax.set_ylim(0, 20)
ax.set_yticks([0, 10, 20])
ax.set_ylabel('Wind speed\n[m s$^{-1}$]')
wax = ax.inset_axes([0.08, 0.885, 0.334, 0.086])
wcb = fig.colorbar(cm.ScalarMappable(norm=dir_norm, cmap='viridis'), cax=wax,
                   orientation='horizontal', ticks=list(range(0, 361, 60)))
wcb.set_label('Wind direction [$^{\\circ}$]')
wcb.outline.set_linewidth(1.3)
wax.tick_params(length=5, width=1.2)

# e
ax = axes[4]
ax.axhline(0, color='#c4c4c4', lw=1.5, zorder=1)
ax.plot(t(e24_days), e24_vals, color=vir(depth_norm(24)), lw=1.9, zorder=3, label='24 m')
ax.plot(t(e60_days), e60_vals, color=vir(depth_norm(60)), lw=1.9, zorder=4, label='60 m')
ax.set_ylim(-0.1, 0.1)
ax.set_yticks([-0.1, 0.0, 0.1])
ax.set_ylabel('Downfjord current\n[m s$^{-1}$]')
leg = ax.legend(loc='upper left', bbox_to_anchor=(0.05, 0.93), frameon=False,
                handlelength=2.0, labelspacing=0.7, fontsize=12)
for h in leg.get_lines():
    h.set_linewidth(2.5)

# f
ax = axes[5]
for dd, lo, hi, dep in f_series:
    c = vir(depth_norm(dep))
    ax.fill_between(t(dd), lo, hi, color=c, lw=2.0, zorder=3)
ax.set_ylim(2, 8)
ax.set_yticks([2, 4, 6, 8])
ax.set_ylabel('Water temperature\n[$^{\\circ}$C]')

# g
ax = axes[6]
for dd, lo, hi, dep in g_series:
    c = vir(depth_norm(dep))
    ax.fill_between(t(dd), lo, hi, color=c, lw=2.0, zorder=3)
ax.set_ylim(26, 32)
ax.set_yticks([26, 28, 30, 32])
ax.set_ylabel('Salinity\n[PSU]')
ax.set_xlabel('Date [YYYY/MM]')

# depth colour bar
cax = fig.add_axes([196 / W, 1 - 2517 / H, 1489 / W, 23 / H])
cb = fig.colorbar(cm.ScalarMappable(norm=depth_norm, cmap='viridis'), cax=cax,
                  orientation='horizontal', ticks=[0, 62.5, 125, 187.5, 250])
cb.ax.set_xticklabels(['0.0', '62.5', '125.0', '187.5', '250.0'])
cb.set_label('Depth of sensor [m]')
cb.outline.set_linewidth(1.3)
cax.tick_params(length=5, width=1.2)

fig.savefig('out.png', dpi=200)
